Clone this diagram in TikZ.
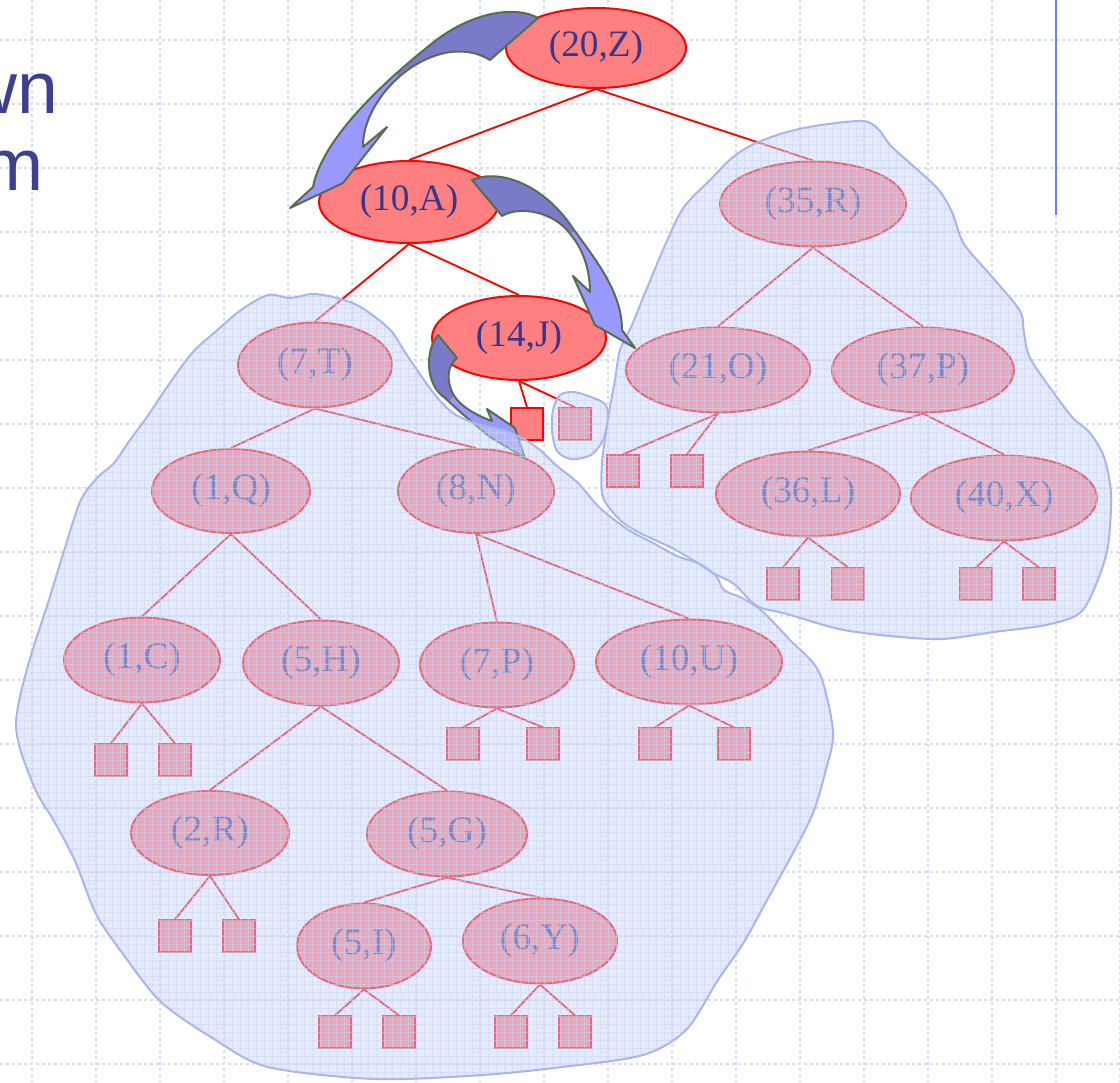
\documentclass[tikz,border=0pt]{standalone}
\usepackage{fontspec}
\setmainfont{Liberation Serif}
\newfontfamily\slidefont{Liberation Sans}
\usetikzlibrary{shapes.geometric}
\definecolor{nodefill}{RGB}{255,128,128}
\definecolor{nodetext}{RGB}{55,55,140}
\definecolor{gridc}{RGB}{210,222,250}
\definecolor{blobfill}{RGB}{205,215,249}
\definecolor{blobline}{RGB}{170,182,232}
\definecolor{finegrid}{RGB}{200,212,250}
\definecolor{arrdark}{RGB}{122,122,200}
\definecolor{arrlight}{RGB}{153,153,255}
\definecolor{arrline}{RGB}{88,108,84}
\definecolor{slidetext}{RGB}{62,64,143}
\definecolor{barc}{RGB}{110,128,235}
\def\arrowA{(538,18) .. controls (515,5) and (470,12) .. (430,45) .. controls (380,85) and (322,140) .. (313,187) -- (290,208) -- (343,183) -- (387,127) -- (363,147) .. controls (362,110) and (400,60) .. (450,52) .. controls (470,50) and (482,55) .. (490,60) -- cycle}
\def\arrowB{(472,180) .. controls (500,168) and (545,185) .. (574,230) .. controls (600,265) and (622,295) .. (622,330) -- (635,348) -- (595,325) -- (573,276) -- (590,292) .. controls (590,268) and (582,248) .. (571,235) .. controls (555,212) and (520,205) .. (502,216) -- cycle}
\def\arrowC{(438,335) .. controls (425,350) and (425,385) .. (445,398) .. controls (460,412) and (475,425) .. (490,437) -- (525,458) -- (515,428) -- (487,409) -- (492,421) .. controls (475,415) and (458,405) .. (452,392) .. controls (446,378) and (448,365) .. (457,358) -- cycle}
\def\blobL{plot[smooth cycle] coordinates {(268,295) (290,298) (312,294) (333,297) (357,305) (379,320) (393,333) (403,349) (415,367) (429,387) (441,402) (456,415) (480,425) (503,430) (522,438) (540,450) (557,466) (578,483) (600,508) (627,529) (653,543) (677,556) (700,564) (716,576) (724,590) (742,598) (762,611) (790,640) (819,672) (833,732) (825,773) (813,813) (793,853) (766,902) (744,942) (718,980) (686,1030) (643,1055) (562,1067) (482,1075) (375,1079) (268,1067) (214,1039) (161,1002) (123,954) (96,914) (75,861) (54,821) (37,793) (21,752) (16,724) (21,692) (32,652) (48,603) (64,551) (80,502) (96,479) (114,463) (130,440) (147,417) (165,390) (192,353) (214,333) (241,310)}}
\def\blobR{plot[smooth cycle] coordinates {(756,143) (787,132) (821,125) (863,121) (878,129) (891,146) (911,164) (938,189) (952,212) (964,244) (994,279) (1020,311) (1024,333) (1030,358) (1056,396) (1073,418) (1090,433) (1104,457) (1111,494) (1108,546) (1097,582) (1080,613) (1046,625) (994,632) (942,639) (890,636) (839,629) (787,614) (757,606) (734,584) (713,573) (693,560) (670,547) (640,533) (620,520) (603,497) (602,463) (609,413) (615,380) (620,350) (632,325) (645,293) (666,243) (684,207) (711,179) (733,157)}}
\def\blobS{plot[smooth cycle] coordinates {(560,395) (574,392) (591,397) (605,404) (608,418) (603,440) (591,455) (571,459) (557,451) (552,431) (553,410)}}
\begin{document}
\begin{tikzpicture}[x=0.75pt,y=-0.75pt,
  tn/.style={ellipse, draw=red, line width=1.5pt, fill=nodefill, inner sep=0pt, text=nodetext, font=\fontsize{28}{28}\selectfont},
  sz/.style 2 args={minimum width=#1*0.75pt, minimum height=#2*0.75pt},
  leaf/.style={rectangle, draw=red, line width=1.5pt, fill=nodefill, minimum size=23.5pt, inner sep=0pt},
  tedge/.style={red, line width=1.4pt},
  gridline/.style={gridc, line width=0.9pt, dash pattern=on 2.5pt off 2pt},
  blobborder/.style={blobline, line width=1.5pt},
  arrowline/.style={arrline, line width=1.5pt, line join=round},
  slide/.style={anchor=base west, inner sep=0pt, text=slidetext, font=\slidefont\fontsize{55}{55}\selectfont}]
\useasboundingbox (0,0) rectangle (1120,1082);
\fill[white] (0,0) rectangle (1120,1082);
% background grid
\foreach \x in {32,96,...,1120} \draw[gridline] (\x,0) -- (\x,1082);
\foreach \y in {40,104,...,1082} \draw[gridline] (0,\y) -- (1120,\y);
% slide remnants
\draw[barc, line width=2.1pt] (1056,0) -- (1056,215);
\node[slide] (t1) at (-36,113) {wn};
\node[slide] (t2) at (-18,190) {m};
% tree nodes
\node[tn, sz={180}{80}] (Z) at (596,48) {(20,Z)};
\node[tn, sz={180}{82}] (A) at (409,202) {(10,A)};
\node[tn, sz={174}{84}] (J) at (519,338) {(14,J)};
\node[tn, sz={154}{85}] (T) at (315,365) {(7,T)};
\node[tn, sz={186}{85}] (R) at (813,204) {(35,R)};
\node[tn, sz={184}{85}] (O) at (718,370) {(21,O)};
\node[tn, sz={182}{85}] (P37) at (923,370) {(37,P)};
\node[tn, sz={158}{84}] (Q) at (231,491) {(1,Q)};
\node[tn, sz={156}{84}] (N) at (476,491) {(8,N)};
\node[tn, sz={184}{85}] (L) at (808,494) {(36,L)};
\node[tn, sz={186}{85}] (X) at (1004,498) {(40,X)};
\node[tn, sz={156}{85}] (C) at (142,660) {(1,C)};
\node[tn, sz={156}{85}] (H) at (321,663) {(5,H)};
\node[tn, sz={154}{85}] (P7) at (497,665) {(7,P)};
\node[tn, sz={186}{85}] (U) at (689,662) {(10,U)};
\node[tn, sz={158}{84}] (R2) at (210,833) {(2,R)};
\node[tn, sz={160}{85}] (G) at (447,834) {(5,G)};
\node[tn, sz={134}{85}] (I) at (364,946) {(5,I)};
\node[tn, sz={154}{85}] (Y) at (540,941) {(6,Y)};
% leaves
\node[leaf] (Ja) at (527,424) {};
\node[leaf] (Jb) at (575,424) {};
\node[leaf] (Ca) at (111,760) {};
\node[leaf] (Cb) at (175,760) {};
\node[leaf] (Pa) at (463,744) {};
\node[leaf] (Pb) at (543,744) {};
\node[leaf] (Ua) at (655,744) {};
\node[leaf] (Ub) at (734,744) {};
\node[leaf] (Ra) at (175,936) {};
\node[leaf] (Rb) at (239,936) {};
\node[leaf] (Ia) at (335,1032) {};
\node[leaf] (Ib) at (399,1032) {};
\node[leaf] (Ya) at (511,1032) {};
\node[leaf] (Yb) at (575,1032) {};
\node[leaf] (Oa) at (623,471) {};
\node[leaf] (Ob) at (687,471) {};
\node[leaf] (La) at (783,584) {};
\node[leaf] (Lb) at (848,584) {};
\node[leaf] (Xa) at (976,584) {};
\node[leaf] (Xb) at (1039,584) {};
% edges
\foreach \p/\c in {Z/A, Z/R, A/T, A/J, J/Ja, J/Jb, T/Q, T/N, Q/C, Q/H, N/P7, N/U, C/Ca, C/Cb, H/R2, H/G, P7/Pa, P7/Pb, U/Ua, U/Ub, R2/Ra, R2/Rb, G/I, G/Y, I/Ia, I/Ib, Y/Ya, Y/Yb, R/O, R/P37, O/Oa, O/Ob, P37/L, P37/X, L/La, L/Lb, X/Xa, X/Xb}
  \draw[tedge] (\p.south) -- (\c.north);
% arrow under the blob
\fill[arrlight] \arrowC;
\begin{scope}\clip (0,0) -- (850,0) -- (0,850) -- cycle; \fill[arrdark] \arrowC; \end{scope}
\draw[arrowline] \arrowC;
% blobs
\fill[blobfill, opacity=0.5] \blobL \blobR \blobS;
\begin{scope}
  \clip \blobL \blobR \blobS;
  \foreach \x in {0,8,...,1120} \draw[finegrid, opacity=0.5, line width=0.5pt] (\x,100) -- (\x,1082);
  \foreach \y in {104,112,...,1082} \draw[finegrid, opacity=0.5, line width=0.5pt] (0,\y) -- (1120,\y);
\end{scope}
\draw[blobborder] \blobL;
\draw[blobborder] \blobR;
\draw[blobborder] \blobS;
% arrows on top
\fill[arrlight] \arrowA;
\begin{scope}\clip (198,-125) -- (698,375) -- (698,-125) -- cycle; \fill[arrdark] \arrowA; \end{scope}
\draw[arrowline] \arrowA;
\fill[arrlight] \arrowB;
\begin{scope}\clip (173,432) -- (973,32) -- (973,-300) -- (173,-300) -- cycle; \fill[arrdark] \arrowB; \end{scope}
\draw[arrowline] \arrowB;
\end{tikzpicture}
\end{document}
